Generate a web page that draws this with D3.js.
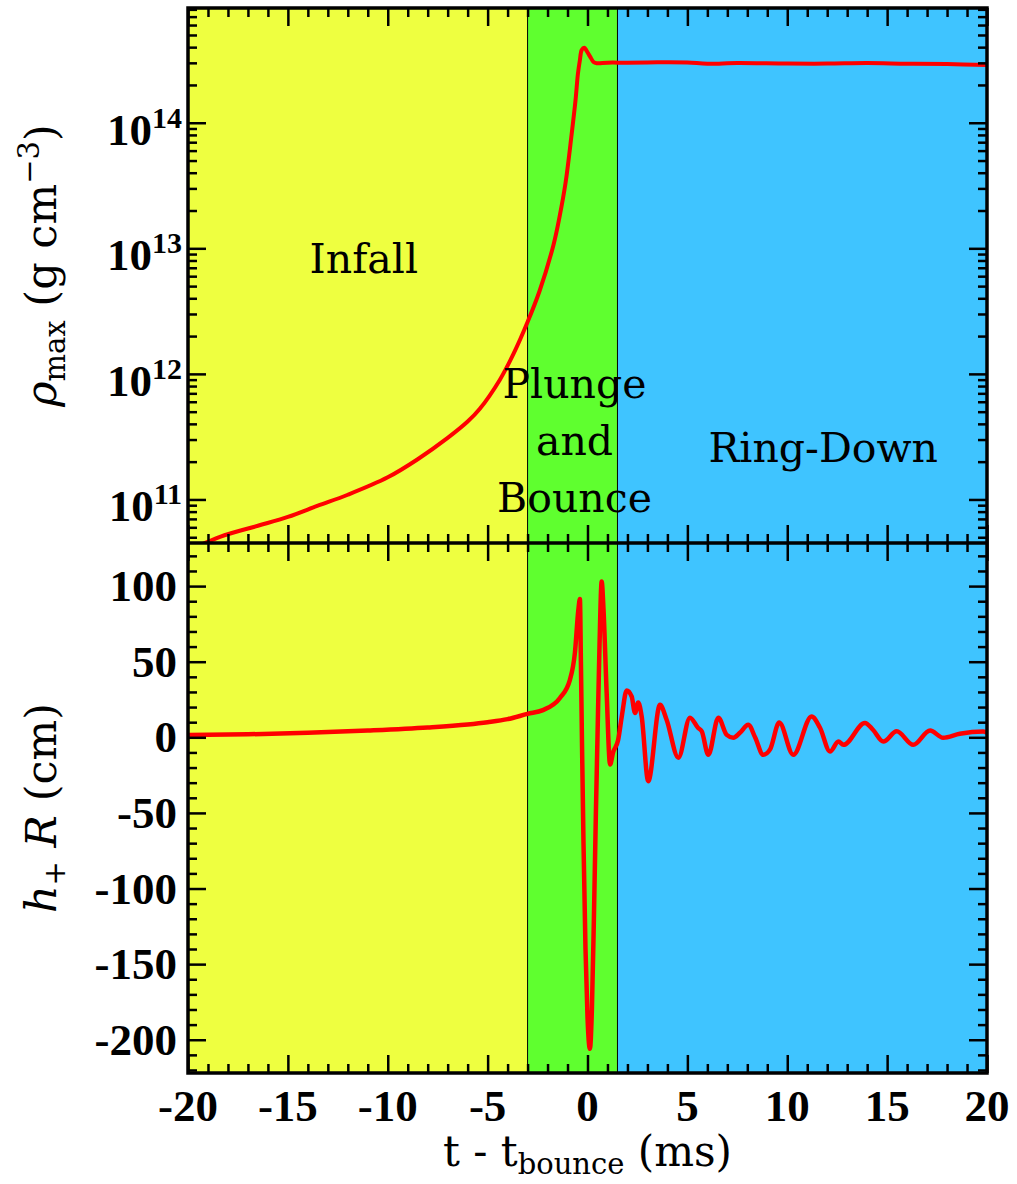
<!DOCTYPE html>
<html>
<head>
<meta charset="utf-8">
<script src="https://cdn.jsdelivr.net/npm/d3@7"></script>
<style>
  body { margin: 0; background: #fff; }
</style>
</head>
<body>
<div id="chart"></div>
<script>
// ---- data ----
const regionNames = ['Infall', 'Plunge and Bounce', 'Ring-Down'];
const regionEdges = [-20, -3, 1.5, 20];
const regionColors = ['#eeff40', '#5fff2f', '#3fc4ff'];

// central density, g cm^-3
const rhoTime = [-20, -18.4, -16.5, -15, -13.5, -12, -10, -8.5, -7, -6, -5.4, -4.4, -3.7, -3,
  -2.4, -1.7, -1.4, -1.1, -0.8, -0.6, -0.48, -0.38, -0.29, -0.16, -0.05, 0.13, 0.3, 0.46,
  1.0, 2.0, 3.5, 5.0, 6.0, 7.5, 10, 12, 14, 16, 18, 20];
const rhoValue = [3.9e10, 5.04e10, 6.17e10, 7.26e10, 8.91e10, 1.09e11, 1.50e11, 2.09e11, 3.09e11,
  4.17e11, 5.25e11, 8.91e11, 1.45e12, 2.59e12, 4.57e12, 1.07e13, 1.78e13, 3.31e13, 7.94e13,
  1.51e14, 2.45e14, 3.16e14, 3.80e14, 3.96e14, 3.76e14, 3.36e14, 3.05e14, 2.98e14,
  3.01e14, 3.01e14, 3.03e14, 3.02e14, 2.95e14, 2.99e14, 2.96e14, 2.96e14, 2.99e14, 2.95e14,
  2.93e14, 2.88e14];

// h+ R, cm
const waveTime = [-20, -17, -14, -11, -8, -6, -5, -4, -3, -2.23, -1.38, -0.88, -0.63, -0.46, -0.38,
  -0.33, -0.28, -0.2, -0.1, 0.0, 0.12, 0.22, 0.32, 0.42, 0.5, 0.6, 0.71, 0.8, 0.96, 1.13, 1.28,
  1.53, 1.73, 1.96, 2.21, 2.38, 2.54, 2.71, 3.04, 3.63, 3.96, 4.55, 5.13, 5.53, 5.72, 6.05, 6.55,
  6.97, 7.3, 7.63, 8.05, 8.39, 8.8, 9.14, 9.6, 10.3, 11.22, 11.64, 12.14, 12.56, 12.81, 13.89,
  14.29, 14.81, 15.48, 16.31, 17.15, 17.8, 18.64, 19.8, 20];
const waveValue = [1.5, 2, 3, 4.5, 6.5, 8.5, 10, 12, 15.5, 18, 26, 38, 56, 84, 91.5,
  50, 0, -70, -140, -185, -206, -180, -120, -50, 0, 60, 103, 85, 29, -18, -10,
  -2, 15, 31, 27, 16, 23, 14, -29, 21.5, 11.6, -13.5, 13, 6.3, 4, -11.6, 13,
  1.6, -0.3, 3, 8.3, 0, -11.6, -8, 9.8, -11.6, 13.8, 6.3, -9.4, -2.8, -5, 9.5,
  5, -2.8, 4, -5, 4.5, -0.3, 2.3, 3.8, 3];

const xTickLabels = [-20, -15, -10, -5, 0, 5, 10, 15, 20];
const rhoTickExp = [11, 12, 13, 14];
const waveTickLabels = [100, 50, 0, -50, -100, -150, -200];

// ---- layout ----
const W = 1017, H = 1184;
const margin = {left: 188, right: 30, top: 8};
const topH = 535, botH = 530;
const plotW = W - margin.left - margin.right;
const yTop0 = margin.top, yTop1 = margin.top + topH;
const yBot0 = yTop1, yBot1 = yTop1 + botH;

const numFont = '"Liberation Serif", "Times New Roman", serif';
const textFont = '"DejaVu Serif", serif';

const svg = d3.select('#chart').append('svg')
  .attr('width', W).attr('height', H)
  .style('font-family', textFont);

const x = d3.scaleLinear().domain([-20, 20]).range([margin.left, margin.left + plotW]);
const yRho = d3.scaleLog().domain([4.5e10, 8.2e14]).range([yTop1, yTop0]);
const yWave = d3.scaleLinear().domain([-222, 128.5]).range([yBot1, yBot0]);

// background regions
const regions = regionNames.map((n, i) => ({name: n, a: regionEdges[i], b: regionEdges[i + 1], c: regionColors[i]}));
svg.append('g').selectAll('rect').data(regions).join('rect')
  .attr('x', d => x(d.a)).attr('width', d => x(d.b) - x(d.a))
  .attr('y', yTop0).attr('height', yBot1 - yTop0)
  .attr('fill', d => d.c);

// thin region borders
svg.append('g').selectAll('line').data(regionEdges.slice(1, -1)).join('line')
  .attr('x1', d => x(d)).attr('x2', d => x(d))
  .attr('y1', yTop0).attr('y2', yBot1)
  .attr('stroke', '#000').attr('stroke-width', 1);

// clip paths
const defs = svg.append('defs');
defs.append('clipPath').attr('id', 'clipTop').append('rect')
  .attr('x', margin.left).attr('y', yTop0).attr('width', plotW).attr('height', topH);
defs.append('clipPath').attr('id', 'clipBot').append('rect')
  .attr('x', margin.left).attr('y', yBot0).attr('width', plotW).attr('height', botH);

// curves
const rhoData = rhoTime.map((t, i) => ({t, v: rhoValue[i]}));
const waveData = waveTime.map((t, i) => ({t, v: waveValue[i]}));

const rhoLine = d3.line().x(d => x(d.t)).y(d => yRho(d.v)).curve(d3.curveCatmullRom.alpha(0.5));
const waveLine = d3.line().x(d => x(d.t)).y(d => yWave(d.v)).curve(d3.curveMonotoneX);

svg.append('path').datum(rhoData)
  .attr('clip-path', 'url(#clipTop)')
  .attr('d', rhoLine).attr('fill', 'none')
  .attr('stroke', '#ff0000').attr('stroke-width', 4).attr('stroke-linejoin', 'round');
svg.append('path').datum(waveData)
  .attr('clip-path', 'url(#clipBot)')
  .attr('d', waveLine).attr('fill', 'none')
  .attr('stroke', '#ff0000').attr('stroke-width', 4.5).attr('stroke-linejoin', 'round');

// ---- ticks (all pointing inward) ----
const minorLen = 9, majorLen = 18;
const xMinor = d3.range(-20, 21, 1).filter(d => d % 5 !== 0);
const xMajor = d3.range(-20, 21, 5);
const rhoMinor = [];
[10, 11, 12, 13, 14].forEach(e => d3.range(2, 10).forEach(k => {
  const v = k * Math.pow(10, e);
  if (v >= yRho.domain()[0] && v <= yRho.domain()[1]) rhoMinor.push(v);
}));
const rhoMajor = rhoTickExp.map(e => Math.pow(10, e));
const waveMinor = d3.range(-220, 130, 10).filter(d => d % 50 !== 0);
const waveMajor = d3.range(-200, 101, 50);

function drawTicks(axisFn, scale, values, len, transform) {
  const g = svg.append('g').attr('transform', transform)
    .call(axisFn(scale).tickValues(values).tickSize(-len).tickFormat(''));
  g.select('.domain').remove();
  g.selectAll('line').attr('stroke', '#000').attr('stroke-width', 2.5);
}

[[minorLen, xMinor], [majorLen, xMajor]].forEach(([len, vals]) => {
  drawTicks(d3.axisTop, x, vals, len, `translate(0,${yTop0})`);
  drawTicks(d3.axisBottom, x, vals, len, `translate(0,${yTop1})`);
  drawTicks(d3.axisTop, x, vals, len, `translate(0,${yBot0})`);
  drawTicks(d3.axisBottom, x, vals, len, `translate(0,${yBot1})`);
});
[[minorLen, rhoMinor], [majorLen, rhoMajor]].forEach(([len, vals]) => {
  drawTicks(d3.axisLeft, yRho, vals, len, `translate(${margin.left},0)`);
  drawTicks(d3.axisRight, yRho, vals, len, `translate(${margin.left + plotW},0)`);
});
[[minorLen, waveMinor], [majorLen, waveMajor]].forEach(([len, vals]) => {
  drawTicks(d3.axisLeft, yWave, vals, len, `translate(${margin.left},0)`);
  drawTicks(d3.axisRight, yWave, vals, len, `translate(${margin.left + plotW},0)`);
});

// frame + panel divider
svg.append('rect')
  .attr('x', margin.left).attr('y', yTop0).attr('width', plotW).attr('height', yBot1 - yTop0)
  .attr('fill', 'none').attr('stroke', '#000').attr('stroke-width', 3.5);
svg.append('line')
  .attr('x1', margin.left).attr('x2', margin.left + plotW)
  .attr('y1', yTop1).attr('y2', yTop1)
  .attr('stroke', '#000').attr('stroke-width', 3.5);

// ---- tick labels ----
svg.append('g').selectAll('text').data(rhoTickExp).join('text')
  .attr('x', margin.left - 6).attr('y', d => yRho(Math.pow(10, d)) + 22)
  .attr('text-anchor', 'end')
  .style('font-family', numFont).style('font-weight', 'bold').style('font-size', '45px')
  .each(function (d) {
    const t = d3.select(this);
    t.append('tspan').text('10');
    t.append('tspan').attr('dy', -17).style('font-size', '30px').text(d);
  });

svg.append('g').selectAll('text').data(waveTickLabels).join('text')
  .attr('x', margin.left - 11).attr('y', d => yWave(d) + 15)
  .attr('text-anchor', 'end')
  .style('font-family', numFont).style('font-weight', 'bold').style('font-size', '45px')
  .text(d => String(d));

svg.append('g').selectAll('text').data(xTickLabels).join('text')
  .attr('x', d => x(d)).attr('y', yBot1 + 48)
  .attr('text-anchor', 'middle')
  .style('font-family', numFont).style('font-weight', 'bold').style('font-size', '45px')
  .text(d => String(d));

// ---- axis titles ----
const xTitle = svg.append('text')
  .attr('x', x(0)).attr('y', 1166)
  .attr('text-anchor', 'middle').style('font-size', '42px');
xTitle.append('tspan').text('t - t');
xTitle.append('tspan').attr('dy', 8).style('font-size', '29px').text('bounce');
xTitle.append('tspan').attr('dy', -8).text(' (ms)');

const rhoTitle = svg.append('text')
  .attr('transform', `translate(56,${(yTop0 + yTop1) / 2 - 10}) rotate(-90)`)
  .attr('text-anchor', 'middle').style('font-size', '43px');
rhoTitle.append('tspan').style('font-style', 'italic').text('ρ');
rhoTitle.append('tspan').attr('dy', 9).style('font-size', '29px').text('max');
rhoTitle.append('tspan').attr('dy', -9).text(' (g cm');
rhoTitle.append('tspan').attr('dy', -17).style('font-size', '29px').text('\u22123');
rhoTitle.append('tspan').attr('dy', 17).text(')');

const waveTitle = svg.append('text')
  .attr('transform', `translate(56,${(yBot0 + yBot1) / 2}) rotate(-90)`)
  .attr('text-anchor', 'middle').style('font-size', '43px');
waveTitle.append('tspan').style('font-style', 'italic').text('h');
waveTitle.append('tspan').attr('dy', 9).style('font-size', '29px').text('+');
waveTitle.append('tspan').attr('dy', -9).text(' ');
waveTitle.append('tspan').style('font-style', 'italic').text('R');
waveTitle.append('tspan').text(' (cm)');

// ---- region labels ----
const regionLabels = [
  {lines: ['Infall'], t: -11.2, y: 273},
  {lines: ['Plunge', 'and', 'Bounce'], t: -0.65, y: 398},
  {lines: ['Ring-Down'], t: 11.8, y: 462}
];
regionLabels.forEach(r => {
  const txt = svg.append('text').attr('text-anchor', 'middle').style('font-size', '41px');
  r.lines.forEach((l, i) => {
    txt.append('tspan').attr('x', x(r.t)).attr('y', r.y + i * 57).text(l);
  });
});
</script>
</body>
</html>
